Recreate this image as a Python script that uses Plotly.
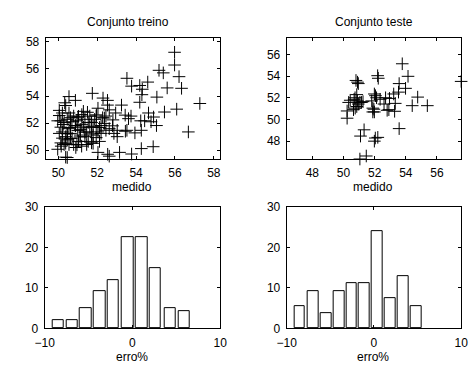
import plotly.graph_objects as go

W, H = 472, 370

# ---------------- data ----------------
train_x = [55.98, 55.98, 56.21, 56.34, 55.18, 55.40, 55.60, 53.53, 53.77, 54.19, 54.32, 54.60, 54.30, 54.19,
           55.07, 55.46, 56.09, 57.28, 56.69, 55.05, 54.90, 54.64, 54.77, 54.44, 54.24, 54.27, 53.94, 53.53,
           53.74, 53.44, 53.25, 53.61, 52.81, 52.95, 53.03, 53.03, 52.86, 52.53, 52.53, 52.62, 52.45, 52.28,
           52.37, 52.20, 52.62, 52.45, 52.20, 51.79, 52.04, 51.75, 51.95, 52.12, 52.04, 52.62, 53.15, 53.77,
           54.27, 54.88, 58.33,
           50.05, 50.21, 50.13, 49.97, 50.33, 50.55, 50.88, 50.13, 50.05, 50.21, 50.38, 50.13, 50.30, 50.46,
           49.97, 50.38, 50.55, 50.63, 50.71, 50.55, 50.79, 50.96, 50.88, 51.04, 51.13, 51.21, 51.29, 51.37,
           51.29, 51.46, 51.37, 51.54, 51.62, 51.71, 51.87, 51.46, 51.71, 51.79, 51.95, 50.79, 50.30, 50.46,
           50.63, 51.01, 51.54, 51.13, 50.46, 50.21, 51.62, 51.95, 52.04, 50.05,
           50.38, 50.46, 50.38, 50.63, 50.63, 50.88, 51.04, 51.21, 51.37, 51.71, 51.12, 51.79, 50.96, 50.46,
           51.96, 52.12, 52.37, 52.79, 53.45, 52.54, 50.25, 50.70, 51.00, 50.15, 50.55, 51.20, 51.50, 50.90,
           52.30]
train_y = [57.23, 56.29, 55.43, 54.57, 55.90, 55.71, 54.60, 55.31, 54.73, 54.78, 54.50, 55.03, 54.10, 53.54,
           53.92, 52.82, 53.03, 53.45, 51.35, 51.82, 52.45, 52.75, 52.10, 52.17, 52.17, 51.47, 51.28, 51.47,
           52.52, 52.59, 53.33, 52.33, 52.24, 52.75, 51.47, 51.00, 51.24, 53.68, 53.33, 52.98, 52.52, 52.40,
           51.98, 51.82, 51.59, 51.47, 51.24, 51.77, 53.10, 54.20, 50.93, 50.65, 49.84, 49.56, 49.84, 49.72,
           50.12, 50.26, 58.00,
           52.94, 52.75, 52.17, 52.17, 53.50, 53.96, 53.68, 51.70, 51.24, 51.35, 51.00, 50.54, 50.42, 50.77,
           50.07, 49.49, 51.59, 51.24, 50.89, 50.42, 52.52, 52.17, 51.82, 50.65, 51.12, 52.63, 52.87, 52.28,
           51.70, 51.35, 51.00, 50.65, 52.52, 52.05, 52.28, 50.42, 50.54, 51.12, 52.52, 50.42, 52.05, 52.28,
           52.40, 52.40, 52.05, 51.54, 51.24, 50.89, 51.70, 51.70, 51.35, 52.56,
           53.30, 51.21, 50.51, 50.86, 51.68, 51.80, 52.50, 51.91, 51.33, 51.21, 50.98, 50.51, 50.40, 49.46,
           52.61, 51.68, 52.38, 51.80, 51.40, 49.70, 51.90, 52.10, 51.45, 50.30, 52.75, 50.30, 52.80, 50.20,
           53.85]

test_x = [53.77, 54.14, 53.57, 53.98, 53.53, 53.22, 53.32, 52.70, 52.60, 52.91, 52.80, 53.28, 52.19, 52.23,
          51.98, 52.12, 52.35, 51.81, 51.88, 51.98, 51.88, 52.04, 51.98, 51.46, 51.05, 51.32, 51.09, 53.57,
          54.76, 54.41, 55.38, 57.55, 50.80, 50.95, 50.85, 50.74, 50.43, 50.33, 50.23, 50.23, 50.64, 50.95,
          51.05, 50.85, 51.15, 50.89, 50.68, 50.90, 52.05, 51.95, 52.20, 50.75, 51.25, 52.95]
test_y = [55.15, 53.99, 53.32, 52.88, 52.53, 52.36, 51.49, 52.01, 51.43, 50.91, 50.85, 50.76, 54.05, 53.81,
          52.36, 52.01, 51.87, 51.72, 51.05, 50.70, 50.70, 48.29, 48.00, 46.63, 46.35, 49.05, 48.47, 49.16,
          52.07, 51.28, 51.28, 53.52, 53.61, 53.32, 52.30, 52.01, 51.78, 51.58, 50.79, 50.12, 50.91, 51.43,
          51.58, 51.20, 51.58, 51.72, 51.87, 53.45, 52.20, 50.95, 48.35, 51.05, 51.65, 51.95]

train_bin_centers = [-8.49, -6.88, -5.33, -3.72, -2.17, -0.55, 1.06, 2.61, 4.29, 5.88]
train_pct = [2.13, 2.13, 4.96, 9.22, 12.06, 22.70, 22.70, 14.89, 4.96, 4.26]
test_bin_centers = [-8.50, -6.95, -5.50, -3.98, -2.55, -1.10, 0.39, 1.85, 3.36, 4.84]
test_pct = [5.56, 9.26, 3.70, 9.26, 11.11, 11.11, 24.07, 7.41, 12.96, 5.56]

train_ticks = [50, 52, 54, 56, 58]
test_ticks = [48, 50, 52, 54, 56]
hist_xticks = [-10, 0, 10]
hist_yticks = [0, 10, 20, 30]

titles = ["Conjunto treino", "Conjunto teste"]
xlabel_top = "medido"
xlabel_bottom = "erro%"

# ---------------- helpers ----------------
def px_x(p):
    return p / W

def px_y(p):
    return 1 - p / H

FONT = "Liberation Sans, Arial, sans-serif"

def axis_style(**kw):
    d = dict(showline=True, linecolor="black", linewidth=1, mirror="allticks",
             ticks="inside", ticklen=3, tickcolor="black", tickwidth=1,
             showgrid=False, zeroline=False,
             tickfont=dict(family=FONT, size=12, color="black"))
    d.update(kw)
    return d

fig = go.Figure()

marker = dict(symbol="cross-thin-open", size=9, color="black", line=dict(color="black", width=1))

fig.add_trace(go.Scatter(x=train_x, y=train_y, mode="markers", marker=marker,
                         xaxis="x", yaxis="y", cliponaxis=False, showlegend=False))
fig.add_trace(go.Scatter(x=test_x, y=test_y, mode="markers", marker=marker,
                         xaxis="x2", yaxis="y2", cliponaxis=False, showlegend=False))
fig.add_trace(go.Bar(x=train_bin_centers, y=train_pct, width=1.3,
                     marker=dict(color="white", line=dict(color="black", width=1)),
                     xaxis="x3", yaxis="y3", showlegend=False))
fig.add_trace(go.Bar(x=test_bin_centers, y=test_pct, width=1.22,
                     marker=dict(color="white", line=dict(color="black", width=1)),
                     xaxis="x4", yaxis="y4", showlegend=False))

tr_lo, tr_hi = 49.35, 58.30
te_lo, te_hi = 46.35, 57.55

XSO = 3  # x tick label standoff
YSO = 3  # y tick label standoff

fig.update_layout(
    width=W, height=H,
    margin=dict(l=0, r=0, t=0, b=0),
    paper_bgcolor="white", plot_bgcolor="white",
    xaxis=axis_style(domain=[px_x(37), px_x(217.5)], range=[tr_lo, tr_hi], tickvals=train_ticks,
                     anchor="y", ticklabelstandoff=XSO),
    yaxis=axis_style(domain=[px_y(158), px_y(32)], range=[tr_lo, tr_hi], tickvals=train_ticks,
                     anchor="x", ticklabelstandoff=YSO),
    xaxis2=axis_style(domain=[px_x(287), px_x(468)], range=[te_lo, te_hi], tickvals=test_ticks,
                      anchor="y2", ticklabelstandoff=XSO),
    yaxis2=axis_style(domain=[px_y(158), px_y(32)], range=[te_lo, te_hi], tickvals=test_ticks,
                      anchor="x2", ticklabelstandoff=YSO),
    xaxis3=axis_style(domain=[px_x(36), px_x(218)], range=[-10, 10], tickvals=hist_xticks,
                      anchor="y3", ticklabelstandoff=XSO),
    yaxis3=axis_style(domain=[px_y(334), px_y(208)], range=[0, 30], tickvals=hist_yticks,
                      anchor="x3", ticklabelstandoff=YSO),
    xaxis4=axis_style(domain=[px_x(287), px_x(468)], range=[-10, 10], tickvals=hist_xticks,
                      anchor="y4", ticklabelstandoff=XSO),
    yaxis4=axis_style(domain=[px_y(334), px_y(208)], range=[0, 30], tickvals=hist_yticks,
                      anchor="x4", ticklabelstandoff=YSO),
    bargap=0,
)

def ann(text, xp, yp):
    return dict(text=text, x=px_x(xp), y=px_y(yp), xref="paper", yref="paper",
                xanchor="center", yanchor="middle", showarrow=False,
                font=dict(family=FONT, size=12, color="black"))

fig.update_layout(annotations=[
    ann(titles[0], 122, 16),
    ann(titles[1], 378, 16),
    ann(xlabel_top, 127, 187),
    ann(xlabel_top, 377, 187),
    ann(xlabel_bottom, 127, 363.5),
    ann(xlabel_bottom, 377, 363.5),
])

fig.write_html("out.html")
